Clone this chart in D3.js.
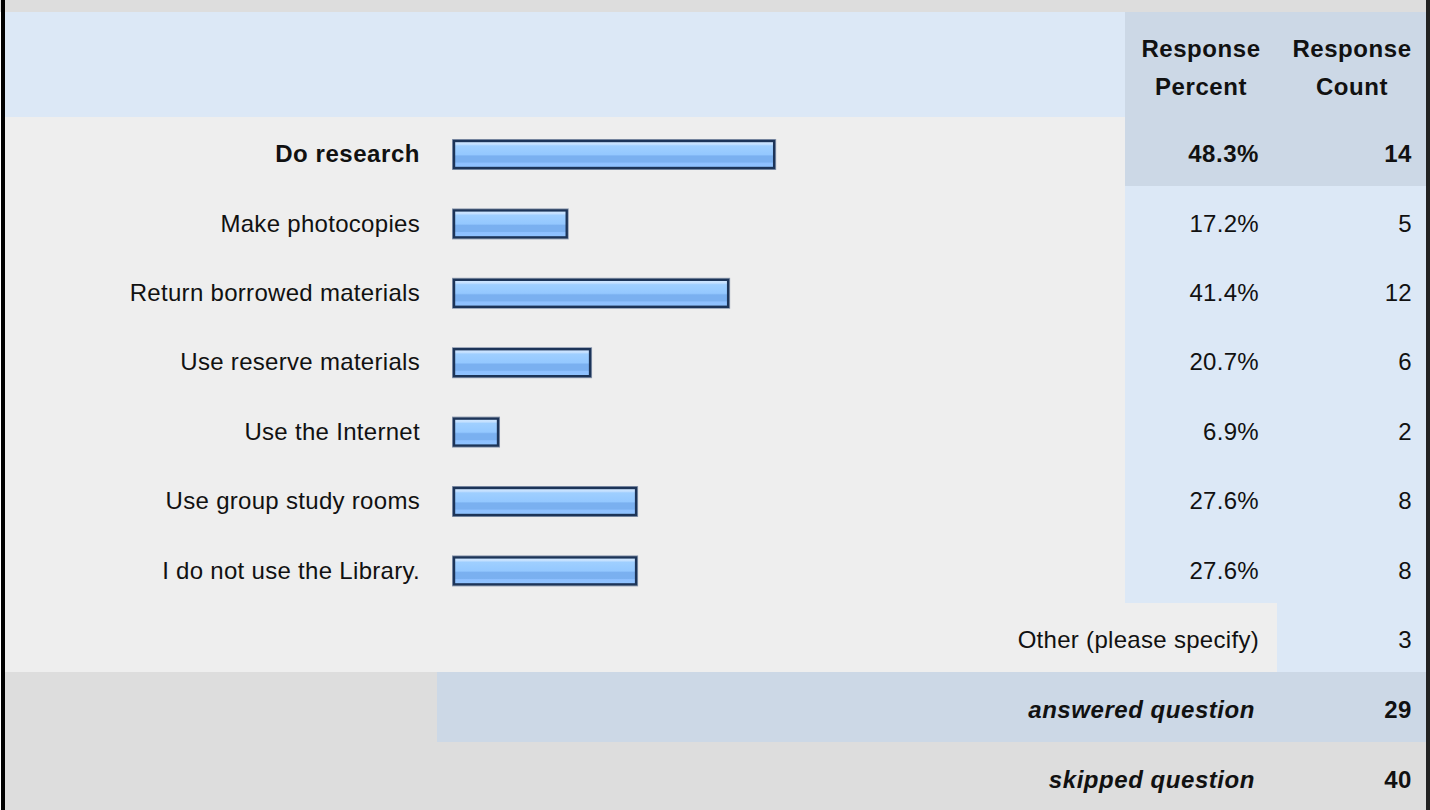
<!DOCTYPE html>
<html>
<head>
<meta charset="utf-8">
<script src="https://cdn.jsdelivr.net/npm/d3@7"></script>
<style>
  html, body { margin: 0; padding: 0; background: #ffffff; }
  svg { display: block; }
  text { font-family: "Liberation Sans", Arial, sans-serif; font-size: 24px; fill: #111; letter-spacing: 0.3px; }
  text.b { font-weight: bold; letter-spacing: 0.55px; }
  .bg { shape-rendering: crispEdges; }
</style>
</head>
<body>
<svg id="chart" width="1430" height="810"></svg>
<script>
// ---- data ----
const categories = ["Do research", "Make photocopies", "Return borrowed materials", "Use reserve materials", "Use the Internet", "Use group study rooms", "I do not use the Library."];
const percents = [48.3, 17.2, 41.4, 20.7, 6.9, 27.6, 27.6];
const counts = [14, 5, 12, 6, 2, 8, 8];
const headerLabels = ["Response", "Percent", "Response", "Count"];
const otherLabel = "Other (please specify)";
const otherCount = 3;
const answeredLabel = "answered question";
const answeredCount = 29;
const skippedLabel = "skipped question";
const skippedCount = 40;

// ---- layout ----
const W = 1430, H = 810;
const left = 4, right = 1426;
const headerTop = 12, headerBottom = 117;
const rowH = 69.4;
const labelRight = 420;
const barX0 = 453;
const pctColX = 1125, cntColX = 1277;
const pctTextX = 1259, cntTextX = 1412;
const baseOff = 10.6;

const svg = d3.select("#chart");

const x = d3.scaleLinear().domain([0, 100]).range([barX0, barX0 + 667]);
const rowsAll = categories.length + 3; // + other, answered, skipped
const y = d3.scaleBand().domain(d3.range(rowsAll)).range([headerBottom, headerBottom + rowH * rowsAll]).padding(0);
const bw = y.bandwidth();

const maxIdx = percents.indexOf(d3.max(percents));

// gradient
const defs = svg.append("defs");
const grad = defs.append("linearGradient").attr("id", "barGrad").attr("x1", 0).attr("y1", 0).attr("x2", 0).attr("y2", 1);
[[0, "#d2e8ff"], [0.12, "#c4e0ff"], [0.18, "#9fcfff"], [0.5, "#94c8ff"], [0.56, "#7ab0f0"], [0.78, "#7ab0f0"], [0.82, "#8ec0ff"], [1, "#90c4ff"]]
  .forEach(([o, c]) => grad.append("stop").attr("offset", o).attr("stop-color", c));

// backgrounds
svg.append("rect").attr("class", "bg").attr("x", 0).attr("y", 0).attr("width", W).attr("height", headerTop).attr("fill", "#dddddd");
svg.append("rect").attr("class", "bg").attr("x", left).attr("y", headerTop).attr("width", pctColX - left).attr("height", headerBottom - headerTop).attr("fill", "#dce8f6");
svg.append("rect").attr("class", "bg").attr("x", pctColX).attr("y", headerTop).attr("width", right - pctColX).attr("height", headerBottom - headerTop).attr("fill", "#ccd8e6");

// header text
const hdr = svg.append("g");
hdr.append("text").attr("class", "b").attr("x", 1201).attr("y", 57).attr("text-anchor", "middle").text(headerLabels[0]);
hdr.append("text").attr("class", "b").attr("x", 1201).attr("y", 95).attr("text-anchor", "middle").text(headerLabels[1]);
hdr.append("text").attr("class", "b").attr("x", 1352).attr("y", 57).attr("text-anchor", "middle").text(headerLabels[2]);
hdr.append("text").attr("class", "b").attr("x", 1352).attr("y", 95).attr("text-anchor", "middle").text(headerLabels[3]);

// category rows
const rows = svg.append("g").selectAll("g").data(categories).join("g")
  .attr("transform", (d, i) => `translate(0,${y(i)})`);

rows.append("rect").attr("class", "bg").attr("x", left).attr("y", 0).attr("width", pctColX - left).attr("height", bw + 0.5).attr("fill", "#eeeeee");
rows.append("rect").attr("class", "bg").attr("x", pctColX).attr("y", 0).attr("width", right - pctColX).attr("height", bw + 0.5)
  .attr("fill", (d, i) => i === maxIdx ? "#ccd8e6" : "#dce8f6");

rows.append("text").attr("class", (d, i) => i === maxIdx ? "b" : null)
  .attr("x", labelRight).attr("y", bw / 2 + baseOff)
  .attr("text-anchor", "end").text(d => d);

const barH = 29;
const barMid = bw / 2 + 2.8;
rows.append("rect")
  .attr("x", x(0) - 0.5).attr("y", barMid - barH / 2 - 0.5)
  .attr("width", (d, i) => x(percents[i]) - x(0) + 1).attr("height", barH + 1)
  .attr("fill", "none").attr("stroke", "#8d9ab0").attr("stroke-width", 1);
rows.append("rect")
  .attr("x", x(0) + 1).attr("y", barMid - barH / 2 + 1)
  .attr("width", (d, i) => x(percents[i]) - x(0) - 2).attr("height", barH - 2)
  .attr("fill", "url(#barGrad)").attr("stroke", "#1c3458").attr("stroke-width", 2.4);

rows.append("text").attr("class", (d, i) => i === maxIdx ? "b" : null)
  .attr("x", pctTextX).attr("y", bw / 2 + baseOff)
  .attr("text-anchor", "end")
  .text((d, i) => percents[i].toFixed(1) + "%");
rows.append("text").attr("class", (d, i) => i === maxIdx ? "b" : null)
  .attr("x", cntTextX).attr("y", bw / 2 + baseOff)
  .attr("text-anchor", "end")
  .text((d, i) => counts[i]);

// other row
const oi = categories.length;
const og = svg.append("g").attr("transform", `translate(0,${y(oi)})`);
og.append("rect").attr("class", "bg").attr("x", left).attr("y", 0).attr("width", cntColX - left).attr("height", bw + 0.5).attr("fill", "#eeeeee");
og.append("rect").attr("class", "bg").attr("x", cntColX).attr("y", 0).attr("width", right - cntColX).attr("height", bw + 0.5).attr("fill", "#dce8f6");
og.append("text").attr("x", pctTextX).attr("y", bw / 2 + baseOff).attr("text-anchor", "end").text(otherLabel);
og.append("text").attr("x", cntTextX).attr("y", bw / 2 + baseOff).attr("text-anchor", "end").text(otherCount);

// answered row
const ag = svg.append("g").attr("transform", `translate(0,${y(oi + 1)})`);
ag.append("rect").attr("class", "bg").attr("x", left).attr("y", 0).attr("width", 437 - left).attr("height", bw + 0.5).attr("fill", "#dddddd");
ag.append("rect").attr("class", "bg").attr("x", 437).attr("y", 0).attr("width", right - 437).attr("height", bw + 0.5).attr("fill", "#ccd8e6");
ag.append("text").attr("class", "b").attr("x", 1255).attr("y", bw / 2 + baseOff + 0.5).attr("text-anchor", "end")
  .attr("font-style", "italic").text(answeredLabel);
ag.append("text").attr("class", "b").attr("x", cntTextX).attr("y", bw / 2 + baseOff + 0.5).attr("text-anchor", "end")
  .text(answeredCount);

// skipped row
const sg = svg.append("g").attr("transform", `translate(0,${y(oi + 2)})`);
sg.append("rect").attr("class", "bg").attr("x", left).attr("y", 0).attr("width", right - left).attr("height", H - y(oi + 2)).attr("fill", "#dddddd");
sg.append("text").attr("class", "b").attr("x", 1255).attr("y", bw / 2 + baseOff + 1).attr("text-anchor", "end")
  .attr("font-style", "italic").text(skippedLabel);
sg.append("text").attr("class", "b").attr("x", cntTextX).attr("y", bw / 2 + baseOff + 1).attr("text-anchor", "end")
  .text(skippedCount);

// side borders
svg.append("rect").attr("class", "bg").attr("x", 1).attr("y", 0).attr("width", 3.5).attr("height", H).attr("fill", "#000");
svg.append("rect").attr("class", "bg").attr("x", 1426).attr("y", 0).attr("width", 4).attr("height", H).attr("fill", "#222");
</script>
</body>
</html>
